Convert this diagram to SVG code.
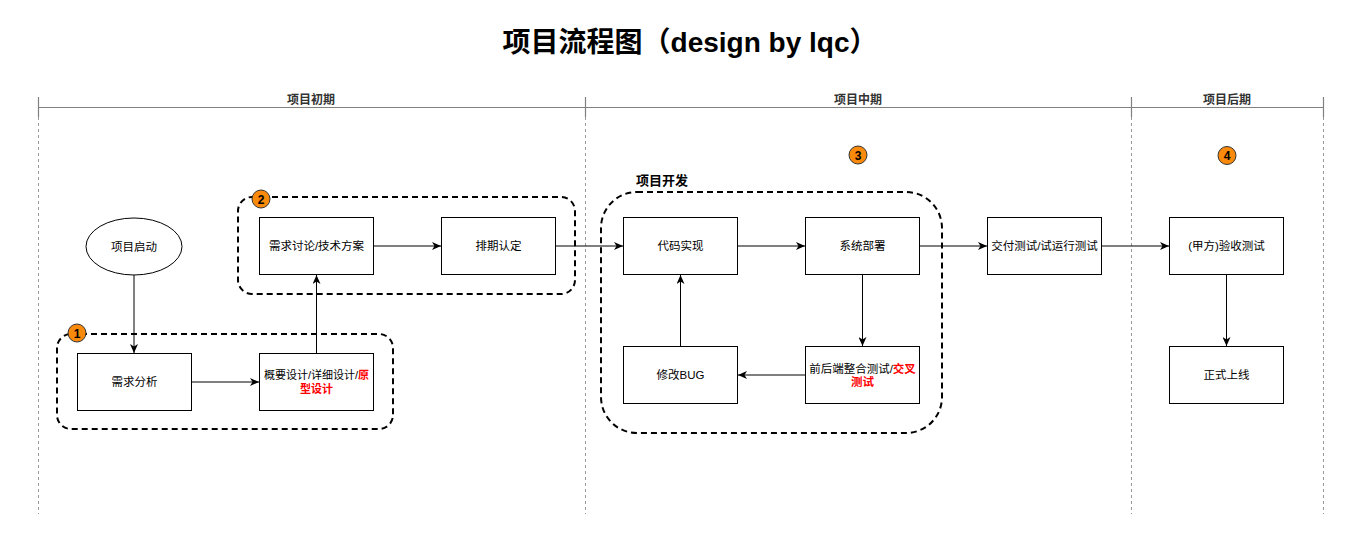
<svg xmlns="http://www.w3.org/2000/svg" width="1359" height="546" viewBox="0 0 1359 546">
<defs>
<marker id="arr" markerUnits="userSpaceOnUse" viewBox="0 0 9 8" refX="9" refY="4" markerWidth="9" markerHeight="8" orient="auto">
<path d="M0,0 L9,4 L0,8 L2.5,4 z" fill="#000"/>
</marker>
<style>
text{font-family:"Liberation Sans","Noto Sans CJK SC",sans-serif;}
.t{font-size:11.5px;fill:#000;text-anchor:middle;}
.box{fill:#fff;stroke:#000;stroke-width:1;}
.grp{fill:none;stroke:#000;stroke-width:2;stroke-dasharray:6 4;}
.lane{stroke:#999;stroke-width:1;stroke-dasharray:3 3;fill:none;}
.axis{stroke:#808080;stroke-width:1.2;fill:none;}
.hdr{font-size:12px;font-weight:bold;fill:#333;text-anchor:middle;}
.badge circle{fill:#F98A0B;stroke:#333;stroke-width:1;}
.badge text{font-size:12px;font-weight:bold;fill:#000;text-anchor:middle;}
.edge{stroke:#000;stroke-width:1;fill:none;marker-end:url(#arr);}
.red{fill:#FF0000;font-weight:bold;}
</style>
</defs>
<rect width="1359" height="546" fill="#fff"/>
<text x="690" y="52" style="font-size:28px;font-weight:bold;text-anchor:middle;fill:#000;">项目流程图（design by lqc）</text>

<g id="timeline">
<path class="axis" d="M38.5 107.5 H1323.5 M38.5 97 V117 M585.5 97 V117 M1131.5 97 V117 M1323.5 97 V117"/>
<path class="lane" d="M38.5 117 V514 M585.5 117 V514 M1131.5 117 V514 M1323.5 117 V514"/>
<text class="hdr" x="311" y="104">项目初期</text>
<text class="hdr" x="858" y="104">项目中期</text>
<text class="hdr" x="1227" y="104">项目后期</text>
</g>

<g id="group1"><rect class="grp" x="57" y="334" width="336" height="95" rx="14"/></g>
<g id="group2"><rect class="grp" x="238" y="197" width="337" height="97" rx="14"/></g>
<g id="group3">
<rect class="grp" x="601" y="192" width="341" height="241" rx="36"/>
<text x="636" y="185" style="font-size:13px;font-weight:bold;fill:#000;">项目开发</text>
</g>

<g id="connectors">
<path class="edge" d="M134 275 V353"/>
<path class="edge" d="M192 382 H259"/>
<path class="edge" d="M316.5 353 V275"/>
<path class="edge" d="M374 246 H441"/>
<path class="edge" d="M556 246 H623"/>
<path class="edge" d="M738 246 H805"/>
<path class="edge" d="M862.5 275 V346"/>
<path class="edge" d="M805 375 H738"/>
<path class="edge" d="M680.5 346 V275"/>
<path class="edge" d="M920 246 H987"/>
<path class="edge" d="M1102 246 H1169"/>
<path class="edge" d="M1226.5 275 V346"/>
</g>

<g id="start"><ellipse class="box" cx="134" cy="246.5" rx="48" ry="28.5"/><text class="t" x="134" y="250.5">项目启动</text></g>
<g id="req"><rect class="box" x="77.5" y="353.5" width="114" height="57"/><text class="t" x="134.5" y="386">需求分析</text></g>
<g id="design"><rect class="box" x="259.5" y="353.5" width="114" height="57"/>
<text class="t" x="316.5" y="379" style="font-size:11px;">概要设计/详细设计/<tspan class="red">原</tspan></text>
<text class="t red" x="316.5" y="393" style="font-size:11px;">型设计</text></g>
<g id="discuss"><rect class="box" x="259.5" y="217.5" width="114" height="57"/><text class="t" x="316.5" y="250">需求讨论/技术方案</text></g>
<g id="schedule"><rect class="box" x="441.5" y="217.5" width="114" height="57"/><text class="t" x="498.5" y="250">排期认定</text></g>
<g id="code"><rect class="box" x="623.5" y="217.5" width="114" height="57"/><text class="t" x="680.5" y="250">代码实现</text></g>
<g id="deploy"><rect class="box" x="805.5" y="217.5" width="114" height="57"/><text class="t" x="862.5" y="250">系统部署</text></g>
<g id="integ"><rect class="box" x="805.5" y="346.5" width="114" height="57"/>
<text class="t" x="862.5" y="373">前后端整合测试/<tspan class="red">交叉</tspan></text>
<text class="t red" x="862.5" y="386">测试</text></g>
<g id="fix"><rect class="box" x="623.5" y="346.5" width="114" height="57"/><text class="t" x="680.5" y="379">修改BUG</text></g>
<g id="deliver"><rect class="box" x="987.5" y="217.5" width="114" height="57"/><text class="t" x="1044.5" y="250">交付测试/试运行测试</text></g>
<g id="accept"><rect class="box" x="1169.5" y="217.5" width="114" height="57"/><text class="t" x="1226.5" y="250">(甲方)验收测试</text></g>
<g id="launch"><rect class="box" x="1169.5" y="346.5" width="114" height="57"/><text class="t" x="1226.5" y="379">正式上线</text></g>

<g id="badge1" class="badge"><circle cx="77" cy="333" r="9"/><text x="77" y="337.5">1</text></g>
<g id="badge2" class="badge"><circle cx="261" cy="199" r="9"/><text x="261" y="203.5">2</text></g>
<g id="badge3" class="badge"><circle cx="858" cy="155" r="9"/><text x="858" y="159.5">3</text></g>
<g id="badge4" class="badge"><circle cx="1227" cy="155.5" r="9"/><text x="1227" y="160">4</text></g>
</svg>
